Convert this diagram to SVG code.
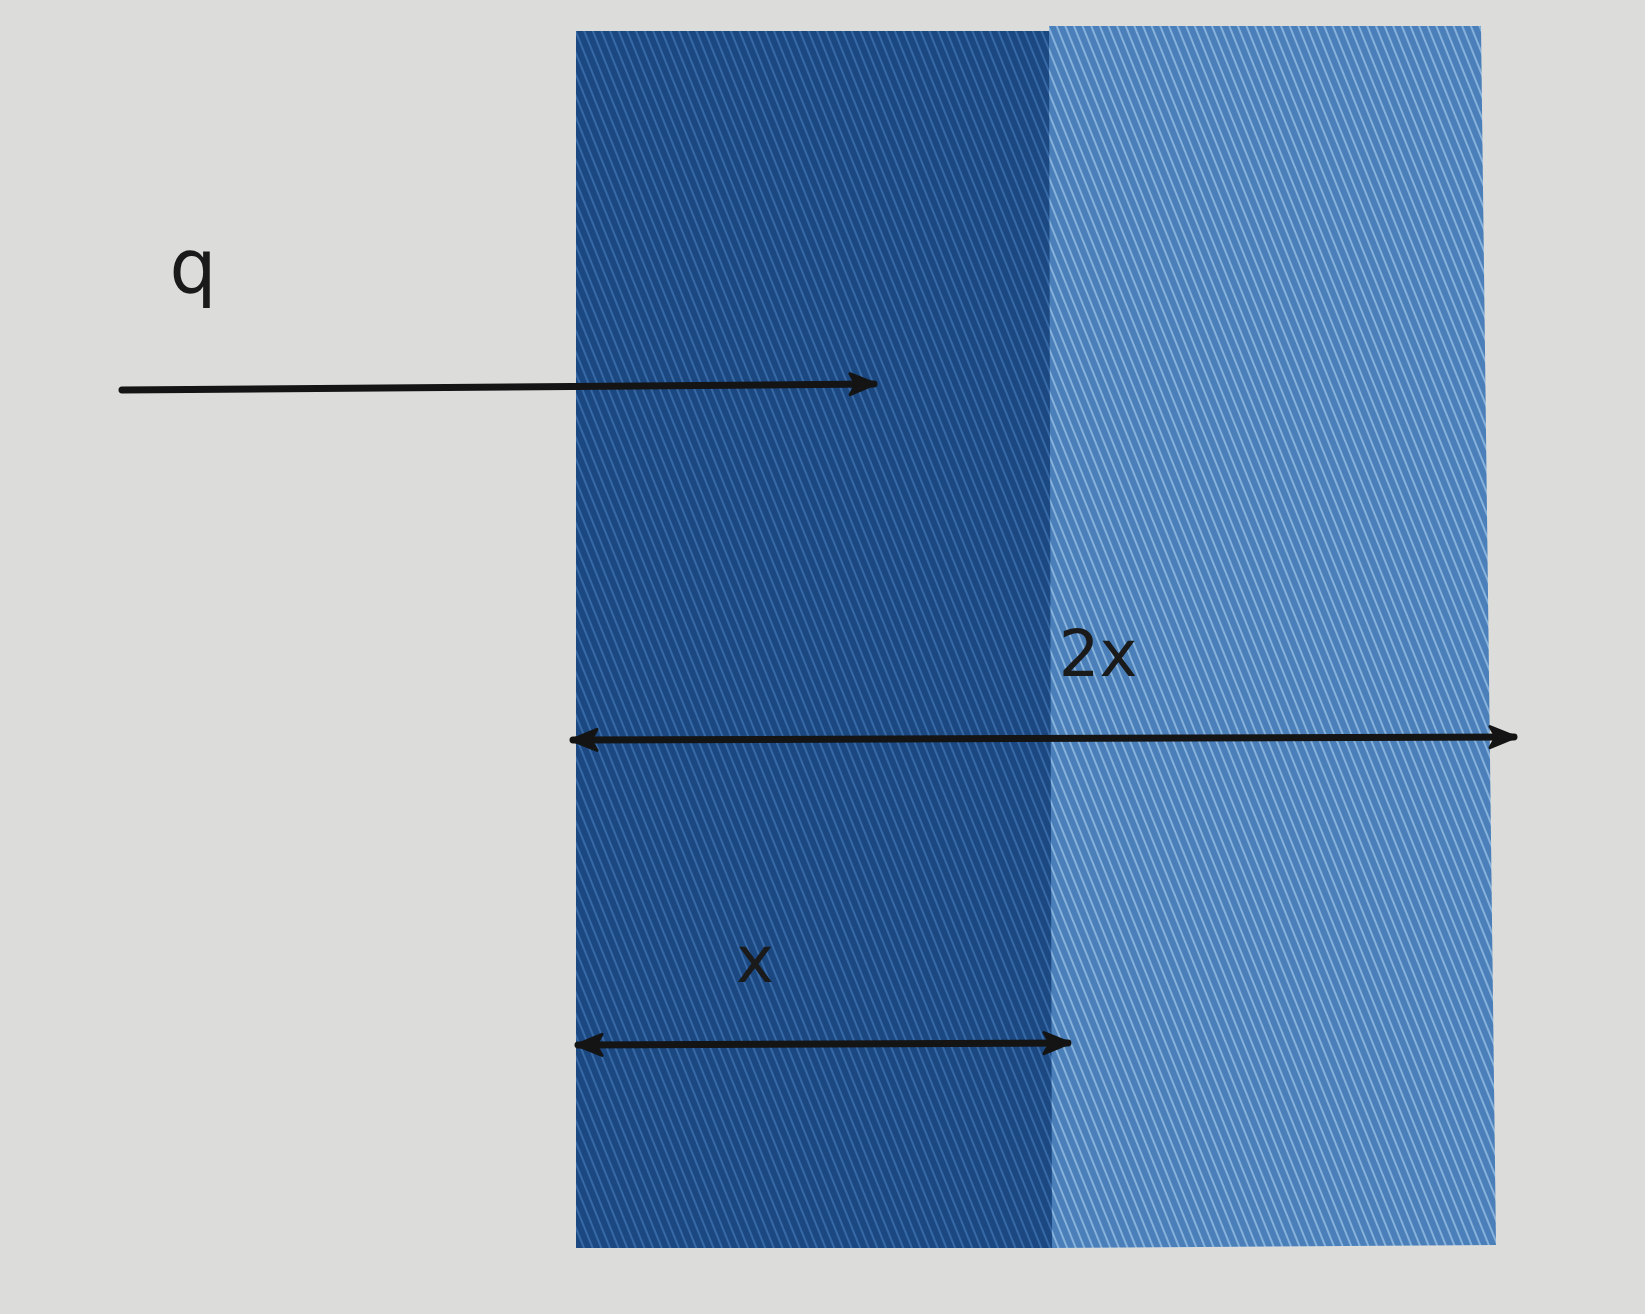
<svg xmlns="http://www.w3.org/2000/svg" width="1645" height="1314" viewBox="0 0 1645 1314">
  <style>
    .lbl { font-family: "DejaVu Sans", "Liberation Sans", sans-serif; fill: #1a1a1a; }
    .conn { stroke: #141414; stroke-width: 7; fill: none; stroke-linecap: round; }
  </style>
  <defs>
    <pattern id="twillDark" width="8" height="8" patternUnits="userSpaceOnUse" patternTransform="rotate(-22)">
      <rect width="8" height="8" fill="#1b4880"/>
      <line x1="2" y1="0" x2="2" y2="8" stroke="#3769a6" stroke-width="2"/>
    </pattern>
    <pattern id="twillLight" width="8" height="8" patternUnits="userSpaceOnUse" patternTransform="rotate(-22)">
      <rect width="8" height="8" fill="#4a7fb9"/>
      <line x1="2" y1="0" x2="2" y2="8" stroke="#86b1db" stroke-width="2"/>
    </pattern>
    <marker id="arrowHead" viewBox="0 0 10 10" refX="9" refY="5" markerWidth="30" markerHeight="30" markerUnits="userSpaceOnUse" orient="auto-start-reverse">
      <path d="M1,1.5 L9.5,5 L1,8.5 L3,5 Z" fill="#141414" stroke="#141414" stroke-width="1" stroke-linejoin="round"/>
    </marker>
  </defs>
  <rect width="1645" height="1314" fill="#dcdcda"/>

  <g id="dark-region">
    <rect x="576" y="31" width="476" height="1217" fill="url(#twillDark)"/>
  </g>
  <g id="light-region">
    <polygon points="1049,26 1481,26 1496,1245 1052,1248" fill="url(#twillLight)"/>
  </g>

  <g id="connectors">
    <line class="conn" x1="122" y1="390" x2="874" y2="384" marker-end="url(#arrowHead)"/>
    <line class="conn" x1="573" y1="740" x2="1514" y2="737" marker-start="url(#arrowHead)" marker-end="url(#arrowHead)"/>
    <line class="conn" x1="578" y1="1045" x2="1068" y2="1043" marker-start="url(#arrowHead)" marker-end="url(#arrowHead)"/>
  </g>

  <g id="label-q"><text class="lbl" x="193" y="292" font-size="74" text-anchor="middle">q</text></g>
  <g id="label-2x"><text class="lbl" x="1098" y="676" font-size="64" text-anchor="middle">2x</text></g>
  <g id="label-x"><text class="lbl" x="755" y="982" font-size="64" text-anchor="middle">x</text></g>
</svg>
